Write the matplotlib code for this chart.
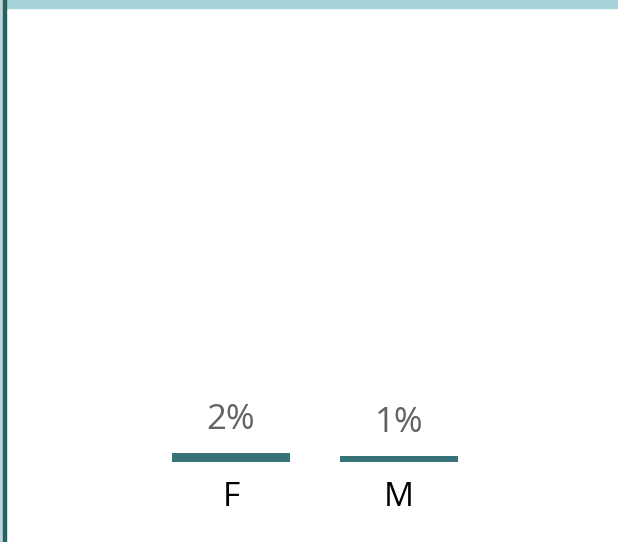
import matplotlib.pyplot as plt
from matplotlib.patches import Rectangle

categories = ['F', 'M']
values = [0.02, 0.013]
labels = ['2%', '1%']

W, H = 618, 542
fig = plt.figure(figsize=(W / 100, H / 100), dpi=100)
plt.rcParams['font.family'] = ['Open Sans', 'DejaVu Sans']

# frame decorations
fig.patches.append(Rectangle((6 / W, 1 - 8 / H), 1, 8 / H, transform=fig.transFigure,
                             color='#a5d3d9', zorder=0))
fig.patches.append(Rectangle((0, 0), 3 / W, 1, transform=fig.transFigure,
                             color='#b9d7da', zorder=0))
fig.patches.append(Rectangle((3 / W, 0), 3 / W, 1, transform=fig.transFigure,
                             color='#2d5e63', zorder=0))

# axes: baseline at y=462 px, 100% at y=12 px
ax = fig.add_axes([6 / W, (H - 462) / H, (W - 6) / W, 450 / H])
x = range(len(categories))
ax.bar(x, values, width=118 / 168, color='#367478')
ax.set_xlim((6 - 231) / 168, (618 - 231) / 168)
ax.set_ylim(0, 1)
for xi, v, lab in zip(x, values, labels):
    ax.text(xi, v + 24 / 450, lab, ha='center', va='baseline', fontsize=25,
            color='#636363')
ax.set_xticks(list(x))
ax.set_xticklabels(categories, fontsize=24, color='black')
ax.tick_params(length=0, pad=14)
ax.set_yticks([])
for s in ax.spines.values():
    s.set_visible(False)
ax.patch.set_alpha(0)

fig.savefig('out.png', dpi=100)
